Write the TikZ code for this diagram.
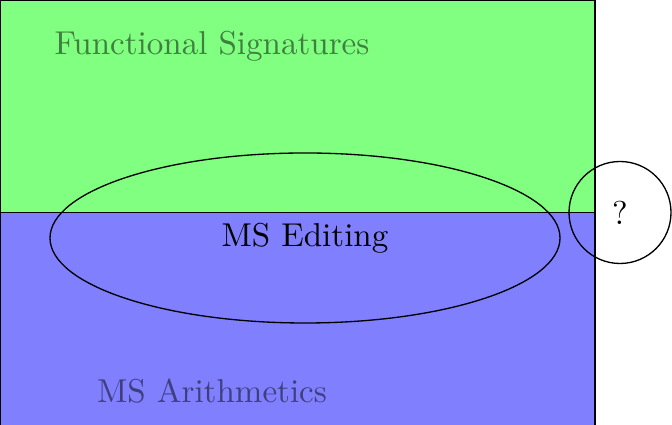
\documentclass[tikz,border=0pt]{standalone}
\usepackage{tikz}
\usetikzlibrary{shapes.geometric}
\newlength{\pxu}
\setlength{\pxu}{0.3025pt}
\begin{document}
\begin{tikzpicture}[x=\pxu,y=-\pxu,
  region/.style={draw=black,line width=0.4pt,inner sep=0pt,outer sep=0pt,minimum width=595\pxu,minimum height=212.5\pxu,anchor=north west},
  faded/.style={text=black,text opacity=0.5,inner sep=0pt},
  ring/.style={draw=black,line width=0.4pt,inner sep=0pt}]
\useasboundingbox (0,0) rectangle (672,425);
\node[region,fill=green!50] (fs) at (0,0) {};
\node[region,fill=blue!50,minimum height=213\pxu] (ar) at (0,212.5) {};
\node[faded] (fst) at (212,46) {Functional Signatures};
\node[faded] (art) at (212,391) {MS Arithmetics};
\node[ring,ellipse,minimum width=510\pxu,minimum height=170\pxu] (ed) at (305,238) {};
\node (edt) at (305,238) {MS Editing};
\node[ring,circle,minimum size=102\pxu] (q) at (620,212.5) {};
\node (qt) at (620,212.5) {?};
\end{tikzpicture}
\end{document}
